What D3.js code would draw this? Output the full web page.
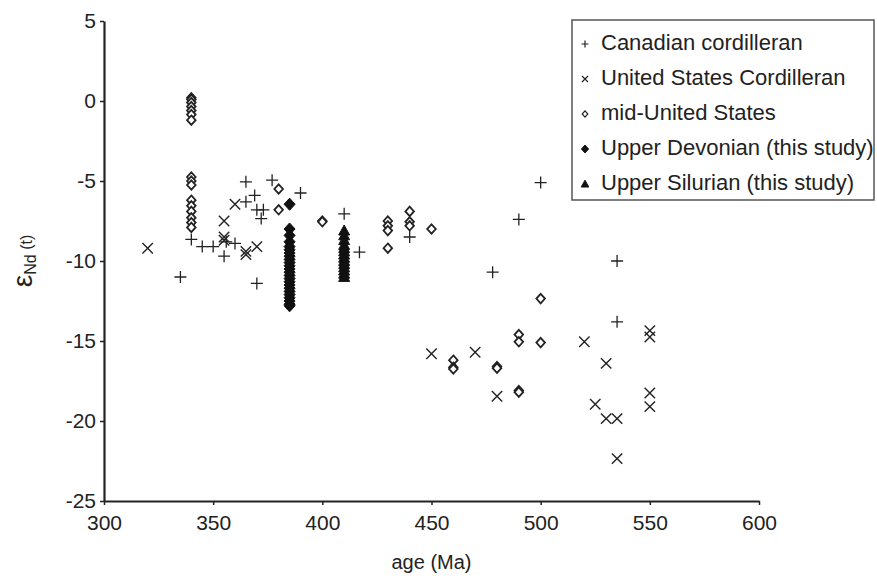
<!DOCTYPE html>
<html>
<head>
<meta charset="utf-8">
<script src="https://cdn.jsdelivr.net/npm/d3@7"></script>
<style>
  body { margin: 0; background: #fff; }
  svg { font-family: "Liberation Sans", Arial, sans-serif; }
  .axis path, .axis line { stroke: #222; }
  .axis text { font-size: 21px; fill: #222; }
</style>
</head>
<body>
<div id="chart"></div>
<script>
// Data: age (Ma) and epsilon Nd(t)
const canAge = [335, 340, 345, 350, 356, 360, 355, 365, 365, 369, 370, 373, 372, 370, 377, 390, 410, 417, 440, 478, 490, 500, 535, 535];
const canEps = [-11.0, -8.65, -9.1, -9.1, -8.8, -8.9, -9.7, -5.05, -6.3, -5.9, -6.8, -6.8, -7.35, -11.4, -4.95, -5.75, -7.05, -9.45, -8.5, -10.7, -7.4, -5.1, -10.0, -13.8];

const usAge = [320, 355, 355, 355, 360, 365, 365, 370, 450, 470, 480, 520, 525, 530, 530, 535, 535, 550, 550, 550, 550];
const usEps = [-9.2, -7.5, -8.5, -8.7, -6.45, -9.4, -9.6, -9.1, -15.8, -15.7, -18.45, -15.05, -18.95, -16.4, -19.85, -19.85, -22.35, -14.35, -14.75, -18.25, -19.1];

const midAge = [340, 340, 340, 340, 340, 340, 340, 340, 340, 340, 340, 340, 340, 340, 340, 340,
                380, 380, 400, 400, 430, 430, 430, 430, 440, 440, 440, 450,
                460, 460, 460, 480, 480, 490, 490, 490, 490, 500, 500];
const midEps = [0.2, 0.1, -0.1, -0.35, -0.6, -0.85, -1.2, -4.75, -5.0, -5.25, -6.2, -6.55, -6.9, -7.3, -7.6, -7.9,
                -5.5, -6.8, -7.5, -7.55, -7.5, -7.8, -8.1, -9.2, -6.9, -7.55, -7.8, -8.0,
                -16.2, -16.65, -16.75, -16.6, -16.7, -14.6, -15.05, -18.1, -18.2, -12.35, -15.1];

const devAge = [385, 385, 385, 385, 385, 385, 385, 385, 385, 385, 385, 385, 385, 385, 385, 385, 385, 385, 385, 385, 385, 385, 385, 385];
const devEps = [-6.45, -8.0, -8.4, -8.8, -9.1, -9.3, -9.5, -9.7, -9.9, -10.1, -10.3, -10.5, -10.7, -10.9, -11.1, -11.3, -11.5, -11.7, -11.9, -12.1, -12.3, -12.5, -12.7, -12.8];

const silAge = [410, 410, 410, 410, 410, 410, 410, 410, 410, 410, 410, 410, 410, 410];
const silEps = [-8.1, -8.4, -8.7, -9.0, -9.2, -9.4, -9.6, -9.8, -10.0, -10.2, -10.4, -10.6, -10.8, -11.0];

const xTicks = [300, 350, 400, 450, 500, 550, 600];
const yTicks = [5, 0, -5, -10, -15, -20, -25];
const seriesNames = ["Canadian cordilleran", "United States Cordilleran", "mid-United States",
                     "Upper Devonian (this study)", "Upper Silurian (this study)"];

// Set up dimensions and margins
const margin = {top: 21, right: 118, bottom: 78, left: 104};
const width = 877 - margin.left - margin.right;
const height = 579 - margin.top - margin.bottom;

const svg = d3.select("#chart")
    .append("svg")
    .attr("width", 877)
    .attr("height", 579)
    .append("g")
    .attr("transform", `translate(${margin.left},${margin.top})`);

const x = d3.scaleLinear().domain([300, 600]).range([0, width]);
const y = d3.scaleLinear().domain([-25, 5]).range([height, 0]);

// marker shapes
const shapes = {
    plus: s => `M${-s},0H${s}M0,${-s}V${s}`,
    cross: s => `M${-s},${-s}L${s},${s}M${-s},${s}L${s},${-s}`,
    diamond: s => `M0,${-s * 1.1}L${s},0L0,${s * 1.1}L${-s},0Z`,
    triangle: s => `M0,${-s}L${s},${s * 0.8}L${-s},${s * 0.8}Z`
};

const styles = [
    {shape: "plus", size: 6, fill: "none", stroke: "#222", sw: 1.3},
    {shape: "cross", size: 5.2, fill: "none", stroke: "#222", sw: 1.4},
    {shape: "diamond", size: 4.3, fill: "#fff", stroke: "#222", sw: 1.8},
    {shape: "diamond", size: 5.5, fill: "#111", stroke: "#111", sw: 1},
    {shape: "triangle", size: 5.5, fill: "#111", stroke: "#111", sw: 1}
];

const series = [
    d3.zip(canAge, canEps),
    d3.zip(usAge, usEps),
    d3.zip(midAge, midEps),
    d3.zip(devAge, devEps),
    d3.zip(silAge, silEps)
];

// Axes
svg.append("g")
    .attr("class", "axis")
    .attr("transform", `translate(0,${height})`)
    .call(d3.axisBottom(x).tickValues(xTicks).tickFormat(d => String(d))
        .tickSize(4).tickSizeOuter(0).tickPadding(10))
    .call(g => g.select(".domain").attr("stroke-width", 2.2))
    .call(g => g.selectAll(".tick line").attr("stroke-width", 1.5));

svg.append("g")
    .attr("class", "axis")
    .call(d3.axisLeft(y).tickValues(yTicks).tickFormat(d => String(d))
        .tickSize(4).tickSizeOuter(0).tickPadding(4))
    .call(g => g.select(".domain").attr("stroke-width", 2.2))
    .call(g => g.selectAll(".tick line").attr("stroke-width", 1.5));

// Points
series.forEach((data, i) => {
    const st = styles[i];
    svg.append("g")
        .selectAll("path")
        .data(data)
        .join("path")
        .attr("transform", d => `translate(${x(d[0])},${y(d[1])})`)
        .attr("d", shapes[st.shape](st.size))
        .attr("fill", st.fill)
        .attr("stroke", st.stroke)
        .attr("stroke-width", st.sw);
});

// Axis labels
svg.append("text")
    .attr("x", width / 2)
    .attr("y", height + 68)
    .attr("text-anchor", "middle")
    .attr("font-size", 20)
    .attr("fill", "#222")
    .text("age (Ma)");

const yLab = svg.append("text")
    .attr("transform", `translate(${-72},${height / 2}) rotate(-90)`)
    .attr("text-anchor", "middle")
    .attr("fill", "#222");
yLab.append("tspan").attr("font-size", 28).text("ε");
yLab.append("tspan").attr("font-size", 16).attr("dy", 4).text("Nd");
yLab.append("tspan").attr("font-size", 16).attr("dy", -4).text(" (t)");

// Legend
const legend = svg.append("g")
    .attr("transform", `translate(${572 - margin.left},${20 - margin.top})`);

legend.append("rect")
    .attr("width", 302)
    .attr("height", 180)
    .attr("fill", "#fff")
    .attr("stroke", "#555")
    .attr("stroke-width", 1.5);

const legendSizes = [3.5, 3, 2.8, 3.6, 3.8];
seriesNames.forEach((name, i) => {
    const st = styles[i];
    const item = legend.append("g")
        .attr("transform", `translate(0, ${22 + i * 35})`);
    item.append("path")
        .attr("transform", "translate(13,2)")
        .attr("d", shapes[st.shape](legendSizes[i]))
        .attr("fill", st.fill)
        .attr("stroke", st.stroke)
        .attr("stroke-width", i < 3 ? 1.2 : 1);
    item.append("text")
        .attr("x", 29)
        .attr("dy", "0.35em")
        .attr("font-size", 22)
        .attr("fill", "#222")
        .text(name);
});
</script>
</body>
</html>
